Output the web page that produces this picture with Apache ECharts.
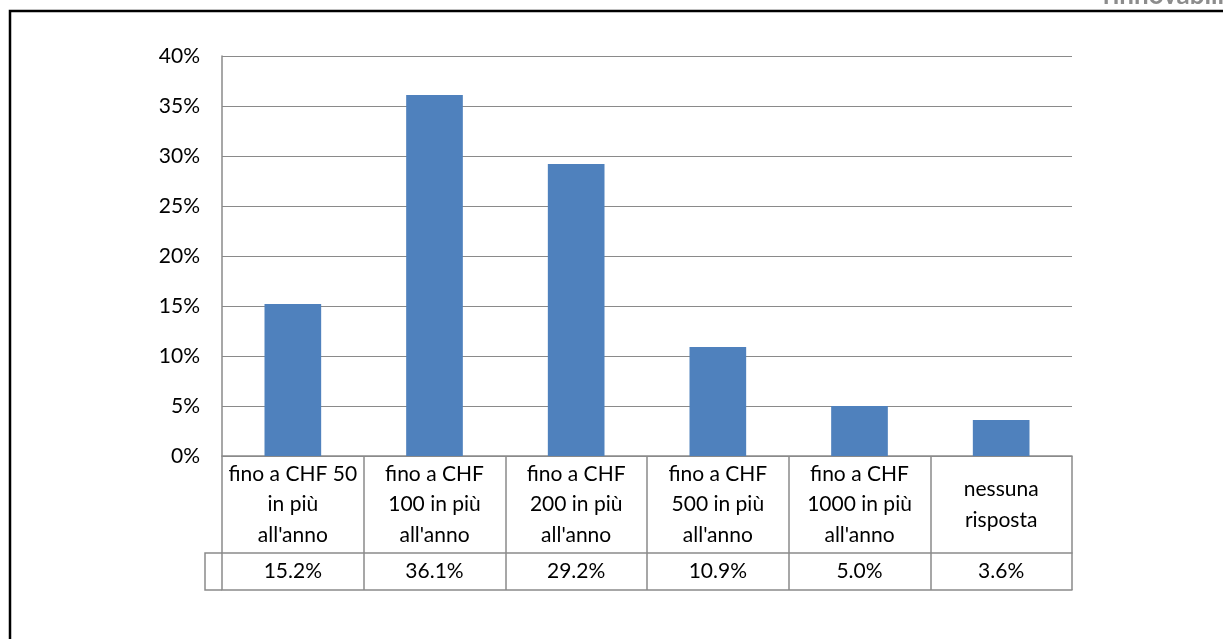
<!DOCTYPE html>
<html>
<head>
<meta charset="utf-8">
<script src="https://cdn.jsdelivr.net/npm/echarts@6/dist/echarts.min.js"></script>
<style>
  html, body { margin: 0; padding: 0; background: #fff; }
  #chart { width: 1223px; height: 639px; }
</style>
</head>
<body>
<div id="chart"></div>
<script>
// Survey answers: extra yearly amount respondents would pay
const categories = [
  'fino a CHF 50\nin più\nall\'anno',
  'fino a CHF\n100 in più\nall\'anno',
  'fino a CHF\n200 in più\nall\'anno',
  'fino a CHF\n500 in più\nall\'anno',
  'fino a CHF\n1000 in più\nall\'anno',
  'nessuna\nrisposta'
];
const shares = [15.2, 36.1, 29.2, 10.9, 5.0, 3.6];
const yTicks = { min: 0, max: 40, interval: 5 };

const FONT = 'Lato';
const FONT_SIZE = 21;
const GRID = { left: 222, right: 151, top: 56, bottom: 183 };
const HEADER_H = 97;   // category row of the data table
const VALUE_H = 37;    // value row of the data table
const KEY_W = 17;      // empty key cell left of the value row
const LINE = '#8a8a8a';

const chart = echarts.init(document.getElementById('chart'), null, { renderer: 'canvas' });

const axisY0 = 639 - GRID.bottom;
const rowY1 = axisY0 + HEADER_H;
const rowY2 = rowY1 + VALUE_H;

chart.setOption({
  animation: false,
  backgroundColor: '#ffffff',
  grid: GRID,
  xAxis: [
    {
      type: 'category',
      data: categories,
      position: 'bottom',
      axisLine: { show: true, lineStyle: { color: LINE, width: 1.5 } },
      axisTick: { show: true, length: HEADER_H + VALUE_H, lineStyle: { color: LINE, width: 1.5 } },
      axisLabel: {
        interval: 0,
        margin: HEADER_H / 2,
        verticalAlign: 'middle',
        lineHeight: 30.5,
        fontFamily: FONT,
        fontSize: FONT_SIZE,
        color: '#000'
      }
    },
    {
      type: 'category',
      data: shares.map(v => v.toFixed(1) + '%'),
      position: 'bottom',
      offset: HEADER_H,
      axisLine: { show: true, lineStyle: { color: LINE, width: 1.5 } },
      axisTick: { show: false },
      axisLabel: {
        interval: 0,
        margin: VALUE_H / 2,
        verticalAlign: 'middle',
        fontFamily: FONT,
        fontSize: FONT_SIZE,
        color: '#000'
      }
    },
    {
      type: 'category',
      data: categories,
      position: 'bottom',
      offset: HEADER_H + VALUE_H,
      axisLine: { show: true, lineStyle: { color: LINE, width: 1.5 } },
      axisTick: { show: false },
      axisLabel: { show: false }
    }
  ],
  yAxis: {
    type: 'value',
    min: yTicks.min,
    max: yTicks.max,
    interval: yTicks.interval,
    axisLine: { show: true, lineStyle: { color: LINE, width: 1.5 } },
    axisTick: { show: false },
    splitLine: { show: true, lineStyle: { color: LINE, width: 1.2 } },
    axisLabel: {
      formatter: '{value}%',
      margin: 22,
      fontFamily: FONT,
      fontSize: FONT_SIZE,
      color: '#000'
    }
  },
  series: [
    {
      type: 'bar',
      data: shares,
      xAxisIndex: 0,
      barWidth: '40%',
      itemStyle: { color: '#4F81BD' }
    }
  ],
  graphic: [
    // outer frame
    {
      type: 'rect',
      shape: { x: 10, y: 11, width: 1400, height: 800 },
      style: { fill: 'none', stroke: '#000', lineWidth: 2.5 },
      silent: true
    },
    // header text clipped by the top edge
    {
      type: 'text',
      left: 1103,
      top: -17,
      style: {
        text: 'rinnovabili',
        font: 'bold 26px ' + FONT,
        fill: '#8c8c8c'
      },
      silent: true
    },
    // empty key cell on the left of the value row
    {
      type: 'polyline',
      shape: { points: [[GRID.left, rowY1], [GRID.left - KEY_W, rowY1], [GRID.left - KEY_W, rowY2], [GRID.left, rowY2]] },
      style: { fill: 'none', stroke: LINE, lineWidth: 1.5 },
      silent: true
    }
  ]
});
</script>
</body>
</html>
